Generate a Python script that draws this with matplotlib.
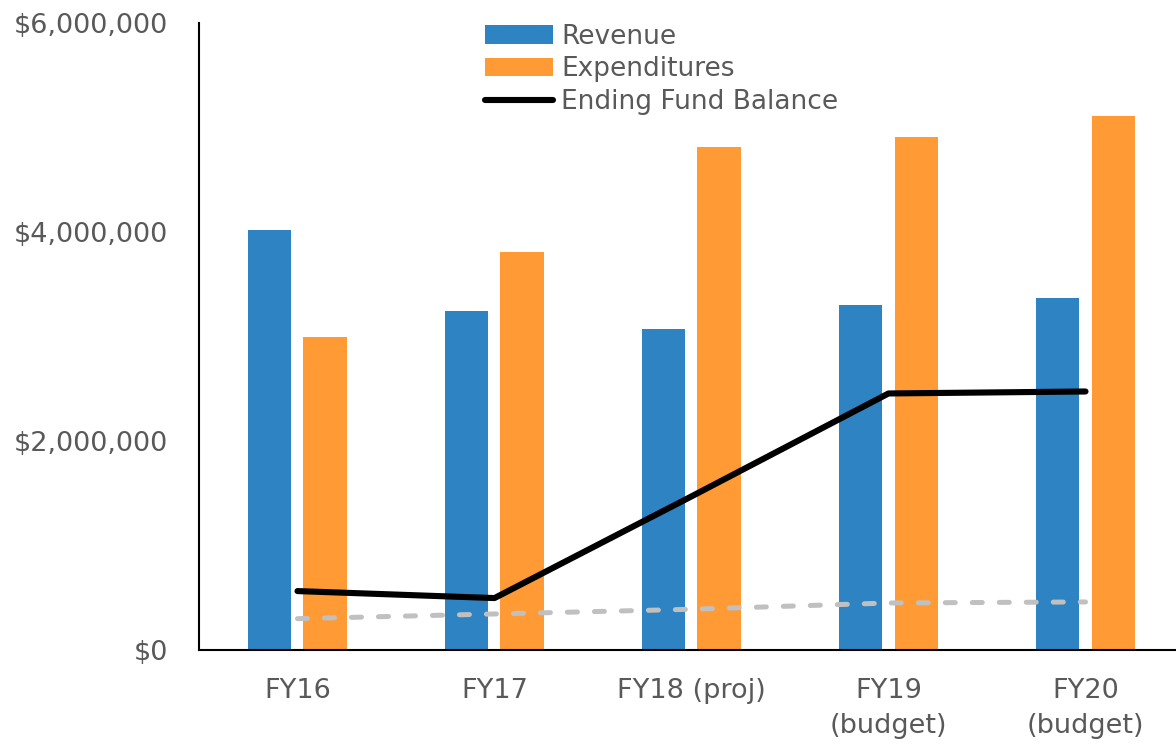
import numpy as np
import matplotlib
matplotlib.use("Agg")
import matplotlib.pyplot as plt
from matplotlib.ticker import FuncFormatter

plt.rcParams['font.family'] = ['DejaVu Sans']

categories = ["FY16", "FY17", "FY18 (proj)", "FY19\n(budget)", "FY20\n(budget)"]
revenue = [4020000, 3240000, 3070000, 3300000, 3370000]
expenditures = [3000000, 3810000, 4810000, 4910000, 5110000]
fund_balance = [564000, 497000, 1470000, 2455000, 2474000]
reserve = [300000, 345000, 390000, 450000, 460000]

blue = "#2E83C3"
orange = "#FF9A35"
gray_txt = "#595959"

fig = plt.figure(figsize=(11.76, 7.45), dpi=100)
ax = fig.add_axes([0.1692, 0.1275, 0.8376, 0.8416])

x = np.arange(len(categories))
w = 0.221
off = 0.141
b1 = ax.bar(x - off, revenue, w, color=blue, label="Revenue", zorder=2)
b2 = ax.bar(x + off, expenditures, w, color=orange, label="Expenditures", zorder=2)
ax.plot(x, reserve, color="#C0C0C0", lw=3.6, dashes=(2.0, 3.4),
        dash_capstyle="round", solid_capstyle="round", zorder=3)
l1, = ax.plot(x, fund_balance, color="black", lw=4.4, solid_capstyle="round",
              label="Ending Fund Balance", zorder=4)

ax.set_xlim(-0.5, 4.5)
ax.set_ylim(0, 6000000)
ax.set_yticks([0, 2000000, 4000000, 6000000])
ax.yaxis.set_major_formatter(FuncFormatter(lambda v, p: "${:,.0f}".format(v)))
ax.set_xticks(x)
ax.set_xticklabels(categories, linespacing=1.45)
ax.tick_params(axis="y", length=0, pad=22, labelsize=19.5, labelcolor=gray_txt)
ax.tick_params(axis="x", length=0, pad=20, labelsize=19.5, labelcolor=gray_txt)

for s in ["top", "right"]:
    ax.spines[s].set_visible(False)
ax.spines["left"].set_color("black")
ax.spines["bottom"].set_color("black")
ax.spines["left"].set_linewidth(1.5)
ax.spines["bottom"].set_linewidth(1.5)

leg = ax.legend([b1, b2, l1], ["Revenue", "Expenditures", "Ending Fund Balance"],
                loc="upper left", bbox_to_anchor=(0.29, 0.999), frameon=False,
                fontsize=19, handlelength=2.6, handletextpad=0.3,
                labelspacing=0.25, borderpad=0, borderaxespad=0)
for t in leg.get_texts():
    t.set_color(gray_txt)

fig.savefig("out.png", dpi=100)
